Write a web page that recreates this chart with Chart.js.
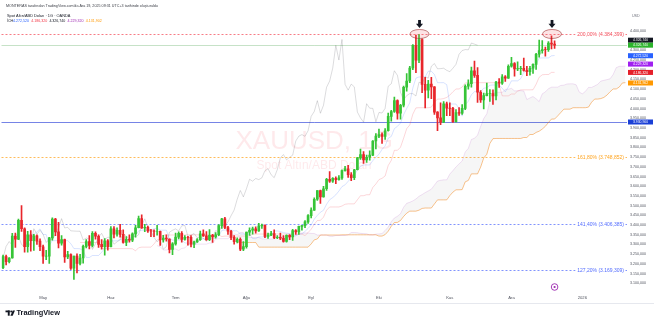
<!DOCTYPE html>
<html lang="tr">
<head>
<meta charset="utf-8">
<title>XAUUSD 1G</title>
<script src="https://cdn.jsdelivr.net/npm/chart.js@4.4.1/dist/chart.umd.min.js"></script>
<style>
  html, body { margin: 0; padding: 0; background: #fff; }
  #wrap { width: 654px; height: 323px; position: relative; }
</style>
</head>
<body>
<div id="wrap"><canvas id="xau"></canvas></div>
<script>
// gunluk mumlar
const dates = [
  '2025-04-11','2025-04-14','2025-04-15','2025-04-16','2025-04-17','2025-04-21','2025-04-22','2025-04-23','2025-04-24','2025-04-25','2025-04-28','2025-04-29','2025-04-30',
  '2025-05-01','2025-05-02','2025-05-05','2025-05-06','2025-05-07','2025-05-08','2025-05-09','2025-05-12','2025-05-13','2025-05-14','2025-05-15','2025-05-16','2025-05-19','2025-05-20','2025-05-21','2025-05-22','2025-05-23','2025-05-26','2025-05-27','2025-05-28','2025-05-29','2025-05-30',
  '2025-06-02','2025-06-03','2025-06-04','2025-06-05','2025-06-06','2025-06-09','2025-06-10','2025-06-11','2025-06-12','2025-06-13','2025-06-16','2025-06-17','2025-06-18','2025-06-19','2025-06-20','2025-06-23','2025-06-24','2025-06-25','2025-06-26','2025-06-27','2025-06-30',
  '2025-07-01','2025-07-02','2025-07-03','2025-07-04','2025-07-07','2025-07-08','2025-07-09','2025-07-10','2025-07-11','2025-07-14','2025-07-15','2025-07-16','2025-07-17','2025-07-18','2025-07-21','2025-07-22','2025-07-23','2025-07-24','2025-07-25','2025-07-28','2025-07-29','2025-07-30','2025-07-31',
  '2025-08-01','2025-08-04','2025-08-05','2025-08-06','2025-08-07','2025-08-08','2025-08-11','2025-08-12','2025-08-13','2025-08-14','2025-08-15','2025-08-18','2025-08-19','2025-08-20','2025-08-21','2025-08-22','2025-08-25','2025-08-26','2025-08-27','2025-08-28','2025-08-29',
  '2025-09-01','2025-09-02','2025-09-03','2025-09-04','2025-09-05','2025-09-08','2025-09-09','2025-09-10','2025-09-11','2025-09-12','2025-09-15','2025-09-16','2025-09-17','2025-09-18','2025-09-19','2025-09-22','2025-09-23','2025-09-24','2025-09-25','2025-09-26','2025-09-29','2025-09-30',
  '2025-10-01','2025-10-02','2025-10-03','2025-10-06','2025-10-07','2025-10-08','2025-10-09','2025-10-10','2025-10-13','2025-10-14','2025-10-15','2025-10-16','2025-10-17','2025-10-20','2025-10-21','2025-10-22','2025-10-23','2025-10-24','2025-10-27','2025-10-28','2025-10-29','2025-10-30','2025-10-31',
  '2025-11-03','2025-11-04','2025-11-05','2025-11-06','2025-11-07','2025-11-10','2025-11-11','2025-11-12','2025-11-13','2025-11-14','2025-11-17','2025-11-18','2025-11-19','2025-11-20','2025-11-21','2025-11-24','2025-11-25','2025-11-26','2025-11-27','2025-11-28',
  '2025-12-01','2025-12-02','2025-12-03','2025-12-04','2025-12-05','2025-12-08','2025-12-09','2025-12-10','2025-12-11','2025-12-12','2025-12-15','2025-12-16','2025-12-17','2025-12-18','2025-12-19',
  // bos gelecek alan (bulut buraya uzaniyor)
  '2025-12-22','2025-12-23','2025-12-24','2025-12-25','2025-12-26','2025-12-29','2025-12-30','2025-12-31','2026-01-01','2026-01-02',
  '2026-01-05','2026-01-06','2026-01-07','2026-01-08','2026-01-09','2026-01-12','2026-01-13','2026-01-14','2026-01-15','2026-01-16','2026-01-19','2026-01-20','2026-01-21'
];

const opens = [
  3180,3237,3211,3230,3343,3327,3424,3381,3288,3349,3319,3344,3317,
  3288,3239,3240,3334,3431,3365,3306,3325,3236,3248,3178,3240,3202,3230,3290,3315,3295,3357,3342,3300,3288,3318,
  3289,3381,3353,3373,3352,3310,3326,3322,3354,3386,3433,3385,3388,3370,3369,3368,3368,3323,3333,3328,3274,
  3303,3338,3357,3326,3337,3336,3301,3313,3324,3355,3344,3324,3347,3339,3350,3397,3432,3387,3368,3336,3314,3326,3275,
  3289,3363,3373,3380,3369,3396,3398,3341,3348,3356,3335,3336,3332,3315,3347,3339,3371,3365,3393,3397,3416,
  3448,3477,3533,3578,3545,3587,3636,3626,3640,3634,3643,3680,3690,3659,3644,3685,3746,3763,3736,3749,3760,3833,
  3858,3866,3857,3886,3960,3985,4041,3976,4017,4110,4142,4209,4326,4250,4356,4125,4095,4126,4112,3982,3952,3930,4025,
  4002,4001,3932,3980,3977,4001,4115,4128,4195,4171,4084,4045,4067,4077,4077,4065,4136,4131,4164,4157,
  4218,4232,4205,4206,4208,4197,4190,4208,4228,4280,4299,4304,4303,4338,4332
];
const highs = [
  3245,3245,3232,3357,3358,3430,3500,3386,3367,3371,3352,3350,3329,
  3297,3269,3336,3437,3435,3414,3346,3327,3265,3252,3240,3252,3249,3296,3325,3345,3366,3365,3350,3325,3330,3325,
  3392,3392,3385,3404,3375,3340,3349,3360,3398,3446,3452,3404,3395,3378,3375,3398,3369,3347,3350,3329,3310,
  3358,3365,3366,3345,3342,3345,3317,3330,3369,3375,3366,3377,3352,3361,3402,3434,3439,3393,3373,3345,3334,3334,3315,
  3363,3385,3390,3391,3409,3405,3401,3358,3368,3375,3345,3358,3345,3350,3351,3378,3377,3394,3398,3423,3454,
  3489,3540,3578,3580,3600,3641,3675,3645,3648,3655,3685,3703,3707,3670,3687,3749,3791,3779,3761,3782,3835,3871,
  3895,3875,3897,3977,3991,4059,4045,4022,4116,4180,4218,4330,4379,4381,4360,4161,4146,4161,4114,3984,4030,4036,4034,
  4030,4007,3995,4005,4020,4123,4148,4214,4245,4211,4093,4080,4132,4098,4096,4140,4155,4175,4170,4225,
  4264,4237,4241,4218,4260,4218,4218,4231,4285,4353,4350,4317,4345,4375,4349
];
const lows = [
  3175,3194,3205,3229,3284,3325,3367,3260,3260,3265,3269,3300,3268,
  3202,3222,3202,3322,3345,3282,3296,3207,3227,3171,3120,3153,3195,3204,3282,3277,3287,3327,3285,3276,3245,3271,
  3287,3333,3343,3338,3307,3294,3311,3314,3338,3385,3382,3366,3362,3340,3340,3348,3295,3312,3317,3256,3247,
  3296,3328,3311,3322,3296,3287,3283,3310,3320,3341,3320,3319,3310,3332,3345,3383,3381,3351,3325,3301,3308,3268,3268,
  3281,3346,3353,3358,3367,3382,3335,3331,3345,3330,3330,3324,3312,3311,3325,3321,3352,3352,3373,3386,3408,
  3436,3475,3527,3511,3543,3578,3620,3620,3613,3631,3635,3677,3645,3628,3634,3684,3738,3717,3722,3734,3758,3792,
  3850,3821,3841,3883,3935,3980,3945,3946,4008,4090,4133,4200,4185,4236,4082,4004,4055,4051,3970,3886,3917,3928,3964,
  3963,3929,3930,3965,3970,3995,4100,4110,4160,4032,4032,3998,4065,4037,4022,4044,4109,4125,4140,4155,
  4213,4167,4195,4175,4193,4169,4172,4181,4202,4265,4286,4270,4294,4308,4310
];
const closes = [
  3237,3211,3230,3343,3327,3424,3381,3288,3349,3319,3344,3317,3288,
  3239,3240,3334,3431,3365,3306,3325,3236,3248,3178,3240,3202,3230,3290,3315,3295,3357,3342,3300,3288,3318,3289,
  3381,3353,3373,3352,3310,3326,3322,3354,3386,3433,3385,3388,3370,3369,3368,3368,3323,3333,3328,3274,3303,
  3338,3357,3326,3337,3336,3301,3313,3324,3355,3344,3324,3347,3339,3350,3397,3432,3387,3368,3336,3314,3326,3275,3289,
  3363,3373,3380,3369,3396,3398,3341,3348,3356,3335,3336,3332,3315,3347,3339,3371,3365,3393,3397,3416,3448,
  3477,3533,3578,3545,3587,3636,3626,3640,3634,3643,3680,3690,3659,3644,3685,3746,3763,3736,3749,3760,3833,3858,
  3866,3857,3886,3960,3985,4041,3976,4017,4110,4142,4209,4326,4250,4356,4125,4095,4126,4112,3982,3952,3930,4025,4002,
  4001,3932,3980,3977,4001,4115,4128,4195,4171,4084,4045,4067,4077,4077,4065,4136,4131,4164,4157,4218,
  4232,4205,4206,4208,4197,4190,4208,4228,4280,4299,4304,4303,4338,4332,4326.74
];

// eksen etiketleri
const monthStarts = ['2025-05-01','2025-06-02','2025-07-01','2025-08-01','2025-09-01','2025-10-01','2025-11-03','2025-12-01','2026-01-01'];
const monthNames = ['May','Haz','Tem','Ağu','Eyl','Eki','Kas','Ara','2026'];
const priceTicks = [3100,3150,3200,3250,3300,3350,3400,3450,3500,3550,3600,3650,3700,3750,3800,3850,3900,3950,4000,4050,4100,4150,4200,4250,4300,4350,4400];

// cizimler: fibonacci seviyeleri, yatay cizgi, tepe isaretleri
const fibLevels = [4384.399, 3748.852, 3406.385, 3169.309];
const fibNames = ['200,00%', '161,80%', '141,40%', '127,20%'];
const fibColors = ['#f23645', '#ff9800', '#3d5afe', '#3d5afe'];
const hLine = 3930.9;
const peakDates = ['2025-10-20', '2025-12-18'];
const peakLevel = 4384.399;
const ichLegend = [4272.52, 4186.32, 4326.74, 4229.32, 4131.902];
const ichColors = ['#2962ff', '#f23645', '#131722', '#9c27b0', '#ff9800'];

const UP = '#36c437', DOWN = '#e8262b';
const FONT = '"Liberation Sans", Arial, sans-serif';

function trNum(v, d) {
  const parts = v.toFixed(d).split('.');
  return parts[0].replace(/\B(?=(\d{3})+(?!\d))/g, '.') + (parts[1] ? ',' + parts[1] : '');
}

// Ichimoku (9, 26, 52, kaydirma 26) mumlardan
function midRange(end, len) {
  let hi = -Infinity, lo = Infinity;
  for (let k = end - len + 1; k <= end; k++) {
    hi = Math.max(hi, highs[k]);
    lo = Math.min(lo, lows[k]);
  }
  return (hi + lo) / 2;
}
const n = dates.length, m = closes.length;
const tenkan = Array(n).fill(null), kijun = Array(n).fill(null);
const spanA = Array(n).fill(null), spanB = Array(n).fill(null), lagging = Array(n).fill(null);
for (let i = 0; i < m; i++) {
  if (i >= 8) tenkan[i] = midRange(i, 9);
  if (i >= 25) kijun[i] = midRange(i, 26);
  if (i >= 25 && i + 25 < n) spanA[i + 25] = (tenkan[i] + kijun[i]) / 2;
  if (i >= 51 && i + 25 < n) spanB[i + 25] = midRange(i, 52);
  if (i >= 25) lagging[i - 25] = closes[i];
}

const candleColor = dates.map((d, i) => i < m && closes[i] < opens[i] ? DOWN : UP);
const bodies = dates.map((d, i) => i < m ? [opens[i], closes[i]] : null);
const wicks = dates.map((d, i) => i < m ? [lows[i], highs[i]] : null);
const tickIdx = monthStarts.map(d => dates.indexOf(d));

const overlay = {
  id: 'overlay',
  beforeDatasetsDraw(chart) {
    const { ctx, chartArea: a, scales: { y } } = chart;
    ctx.save();
    // filigran
    const cx = (a.left + a.right) / 2;
    ctx.fillStyle = 'rgba(242,54,69,0.11)';
    ctx.textAlign = 'center';
    ctx.textBaseline = 'middle';
    ctx.font = '26px ' + FONT;
    ctx.fillText('XAUUSD, 1G', cx, 142);
    ctx.font = '12px ' + FONT;
    ctx.fillText('Spot Altın/ABD Doları', cx, 166);

    // fiyat cizgisi ve mavi yatay cizgi
    ctx.lineWidth = 1;
    let yy = Math.round(y.getPixelForValue(closes[m - 1])) + 0.5;
    ctx.strokeStyle = 'rgba(67,160,71,0.3)';
    ctx.beginPath(); ctx.moveTo(a.left, yy); ctx.lineTo(a.right, yy); ctx.stroke();
    yy = Math.round(y.getPixelForValue(hLine)) + 0.5;
    ctx.strokeStyle = 'rgba(60,80,220,0.7)';
    ctx.beginPath(); ctx.moveTo(a.left, yy); ctx.lineTo(a.right, yy); ctx.stroke();

    // fibonacci seviyeleri
    ctx.font = '5px ' + FONT;
    ctx.textAlign = 'left';
    fibLevels.forEach((v, i) => {
      const py = Math.round(y.getPixelForValue(v)) + 0.5;
      const txt = fibNames[i] + ' (' + trNum(v, 3) + ')';
      const w = ctx.measureText(txt).width;
      const tEnd = a.right - 3, tStart = tEnd - w;
      ctx.strokeStyle = fibColors[i];
      ctx.globalAlpha = 0.65;
      ctx.setLineDash([2, 2]);
      ctx.beginPath();
      ctx.moveTo(a.left, py); ctx.lineTo(tStart - 2, py);
      ctx.moveTo(tEnd + 1.5, py); ctx.lineTo(a.right, py);
      ctx.stroke();
      ctx.setLineDash([]);
      ctx.globalAlpha = 0.9;
      ctx.fillStyle = fibColors[i];
      ctx.fillText(txt, tStart, py);
      ctx.globalAlpha = 1;
    });
    ctx.restore();
  },
  afterDatasetsDraw(chart) {
    const { ctx, scales: { x, y } } = chart;
    ctx.save();
    peakDates.forEach(d => {
      const px = x.getPixelForValue(dates.indexOf(d)) + 0.5;
      const py = y.getPixelForValue(peakLevel);
      ctx.beginPath();
      ctx.ellipse(px, py, 9.5, 4.5, 0, 0, Math.PI * 2);
      ctx.fillStyle = 'rgba(242,54,69,0.14)';
      ctx.fill();
      ctx.strokeStyle = 'rgba(150,40,40,0.7)';
      ctx.lineWidth = 0.8;
      ctx.stroke();
      // siyah ok
      ctx.fillStyle = '#131722';
      ctx.fillRect(px - 1.4, py - 14, 2.8, 4);
      ctx.beginPath();
      ctx.moveTo(px - 3.5, py - 10.2);
      ctx.lineTo(px + 3.5, py - 10.2);
      ctx.lineTo(px, py - 6);
      ctx.closePath();
      ctx.fill();
    });
    ctx.restore();
  },
  afterDraw(chart) {
    const { ctx, chartArea: a, scales: { x, y } } = chart;
    ctx.save();
    ctx.textBaseline = 'middle';
    ctx.textAlign = 'left';
    // ust bilgi satirlari
    ctx.fillStyle = '#3a3d45';
    ctx.font = '3.7px ' + FONT;
    ctx.fillText("MONTERAS tarafından TradingView.com'da Ara 19, 2025 09:31 UTC+3 tarihinde oluşturuldu", 6, 6);
    ctx.font = '3.9px ' + FONT;
    ctx.fillStyle = '#131722';
    ctx.fillText('Spot Altın/ABD Doları · 1G · OANDA', 7, 15.5);
    ctx.font = '3.6px ' + FONT;
    ctx.fillText('İCH', 7, 21);
    let lx = 13;
    ichLegend.forEach((v, i) => {
      const t = trNum(v, 3);
      ctx.fillStyle = ichColors[i];
      ctx.fillText(t, lx, 21);
      lx += ctx.measureText(t).width + 2.2;
    });

    // fiyat ekseni etiket kutulari
    const marks = [
      { v: ichLegend[2], c: '#131722' },
      { v: closes[m - 1], c: '#2bb32b' },
      { v: ichLegend[0], c: '#2962ff' },
      { v: ichLegend[3], c: '#a020f0' },
      { v: ichLegend[1], c: '#e5202a' },
      { v: ichLegend[4], c: '#ff9800' },
      { v: hLine, c: '#1a3fd6' }
    ];
    const bh = 5;
    const ys = marks.map(mk => y.getPixelForValue(mk.v));
    for (let i = ys.length - 2; i >= 0; i--) {
      if (ys[i] > ys[i + 1] - bh) ys[i] = ys[i + 1] - bh;
    }
    ctx.font = '3.4px ' + FONT;
    ctx.textAlign = 'center';
    marks.forEach((mk, i) => {
      ctx.fillStyle = mk.c;
      ctx.fillRect(a.right + 1, ys[i] - bh / 2, 25, bh);
      ctx.fillStyle = '#fff';
      ctx.fillText(trNum(mk.v, 3), a.right + 13.5, ys[i] + 0.2);
    });
    ctx.fillStyle = '#6a6d78';
    ctx.textAlign = 'left';
    ctx.font = '3.6px ' + FONT;
    ctx.fillText('USD', a.right + 5, 16);

    // alt cizgi ve olay simgesi
    ctx.strokeStyle = '#e6e8ee';
    ctx.lineWidth = 1;
    ctx.beginPath(); ctx.moveTo(0, 303.5); ctx.lineTo(654, 303.5); ctx.stroke();
    const ex = x.getPixelForValue(m - 1), ey = a.bottom - 4;
    ctx.strokeStyle = '#9c27b0';
    ctx.lineWidth = 0.9;
    ctx.beginPath(); ctx.arc(ex, ey, 3.3, 0, Math.PI * 2); ctx.stroke();
    ctx.fillStyle = '#9c27b0';
    ctx.beginPath(); ctx.arc(ex, ey, 1.1, 0, Math.PI * 2); ctx.fill();

    // TradingView logosu
    ctx.fillStyle = '#131722';
    ctx.fillRect(5.5, 310.5, 4.2, 1.8);
    ctx.fillRect(7.8, 310.5, 1.9, 5.2);
    ctx.beginPath(); ctx.arc(11.2, 311.4, 1, 0, Math.PI * 2); ctx.fill();
    ctx.beginPath();
    ctx.moveTo(10.4, 315.7); ctx.lineTo(12.7, 310.5); ctx.lineTo(15, 310.5); ctx.lineTo(12.7, 315.7);
    ctx.closePath(); ctx.fill();
    ctx.font = 'bold 7.4px ' + FONT;
    ctx.fillText('TradingView', 16.5, 313.3);
    ctx.restore();
  }
};

new Chart(document.getElementById('xau'), {
  type: 'bar',
  data: {
    labels: dates,
    datasets: [
      { type: 'bar', data: bodies, backgroundColor: candleColor, barThickness: 2, grouped: false, borderWidth: 0, order: 1 },
      { type: 'bar', data: wicks, backgroundColor: candleColor, barThickness: 1, grouped: false, borderWidth: 0, order: 2 },
      { type: 'line', data: lagging, borderColor: 'rgba(19,23,34,0.15)', borderWidth: 1, pointRadius: 0, order: 3 },
      { type: 'line', data: tenkan, borderColor: 'rgba(41,98,255,0.18)', borderWidth: 1, pointRadius: 0, order: 4 },
      { type: 'line', data: kijun, borderColor: 'rgba(242,54,69,0.2)', borderWidth: 1, pointRadius: 0, order: 5 },
      { type: 'line', data: spanA, borderColor: 'rgba(156,39,176,0.14)', borderWidth: 1, pointRadius: 0, order: 6,
        fill: { target: '+1', above: 'rgba(0,0,0,0.035)', below: 'rgba(0,0,0,0.035)' } },
      { type: 'line', data: spanB, borderColor: 'rgba(245,124,0,0.45)', borderWidth: 1, pointRadius: 0, order: 7 }
    ]
  },
  options: {
    responsive: true,
    maintainAspectRatio: false,
    animation: false,
    devicePixelRatio: 1,
    layout: { padding: { left: 1.5, right: 0, top: 10, bottom: 20 } },
    plugins: { legend: { display: false }, tooltip: { enabled: false } },
    scales: {
      x: {
        type: 'category',
        offset: true,
        grid: { display: false, drawTicks: false },
        border: { display: false },
        ticks: {
          autoSkip: false, maxRotation: 0, minRotation: 0, padding: 4,
          font: { size: 4.2, family: FONT }, color: '#50535e',
          callback: (v, i) => {
            const k = tickIdx.indexOf(i);
            return k < 0 ? null : monthNames[k];
          }
        },
        afterFit: s => { s.height = 12; }
      },
      y: {
        type: 'linear',
        position: 'right',
        min: 3060,
        max: 4508,
        grid: { display: false, drawTicks: false },
        border: { display: false },
        afterBuildTicks: s => { s.ticks = priceTicks.map(v => ({ value: v })); },
        ticks: {
          autoSkip: false, padding: 3,
          font: { size: 3.6, family: FONT }, color: '#50535e',
          callback: v => trNum(v, 3)
        },
        afterFit: s => { s.width = 27; }
      }
    }
  },
  plugins: [overlay]
});
</script>
</body>
</html>
